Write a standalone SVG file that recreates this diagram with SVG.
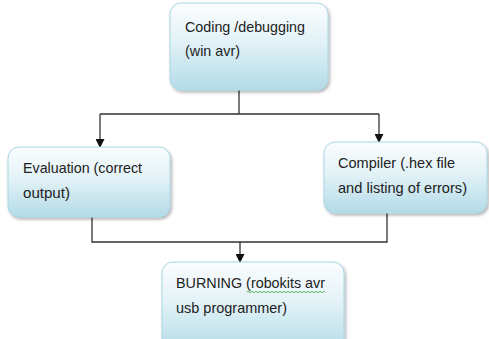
<svg xmlns="http://www.w3.org/2000/svg" width="489" height="339" viewBox="0 0 489 339">
<defs>
<linearGradient id="g" x1="0" y1="0" x2="0" y2="1">
<stop offset="0" stop-color="#fbfdfe"/>
<stop offset="0.45" stop-color="#e2f2f7"/>
<stop offset="1" stop-color="#b3dbe7"/>
</linearGradient>
<filter id="sh" x="-10%" y="-10%" width="125%" height="130%">
<feDropShadow dx="1.5" dy="2" stdDeviation="1.5" flood-color="#000" flood-opacity="0.3"/>
</filter>
<marker id="ah" markerWidth="9" markerHeight="9" refX="8" refY="4.5" orient="auto" markerUnits="userSpaceOnUse">
<path d="M0,0 L9,4.5 L0,9 Z" fill="#111"/>
</marker>
<style>
.box{fill:url(#g);stroke:#a8d6e3;stroke-width:1;filter:url(#sh)}
.t{font-family:"Liberation Sans",Arial,sans-serif;font-size:14.5px;fill:#222}
.c{fill:none;stroke:#333;stroke-width:1.3}
</style>
</defs>
<rect width="489" height="339" fill="#fff"/>
<g id="connectors">
<path class="c" d="M239,90 V114 M100,114 H379"/>
<path class="c" d="M100,114 V147" marker-end="url(#ah)"/>
<path class="c" d="M379,114 V142" marker-end="url(#ah)"/>
<path class="c" d="M92,217 V242 H387 V213"/>
<path class="c" d="M240,242 V262" marker-end="url(#ah)"/>
</g>
<g id="coding">
<rect class="box" x="170" y="3" width="158" height="87" rx="11"/>
<text class="t" x="185" y="32" textLength="120" lengthAdjust="spacingAndGlyphs">Coding /debugging</text>
<text class="t" x="185" y="56" textLength="55" lengthAdjust="spacingAndGlyphs">(win avr)</text>
</g>
<g id="evaluation">
<rect class="box" x="8" y="147" width="162" height="70" rx="11"/>
<text class="t" x="23" y="173" textLength="119" lengthAdjust="spacingAndGlyphs">Evaluation (correct</text>
<text class="t" x="23" y="198" textLength="47" lengthAdjust="spacingAndGlyphs">output)</text>
</g>
<g id="compiler">
<rect class="box" x="324" y="142" width="163" height="71" rx="11"/>
<text class="t" x="338" y="168" textLength="117" lengthAdjust="spacingAndGlyphs">Compiler (.hex file</text>
<text class="t" x="338" y="193" textLength="129" lengthAdjust="spacingAndGlyphs">and listing of errors)</text>
</g>
<g id="burning">
<rect class="box" x="162" y="262" width="182" height="90" rx="11"/>
<text class="t" x="176" y="288" textLength="149" lengthAdjust="spacingAndGlyphs">BURNING (robokits avr</text>
<path d="M247,292 q1,-1.5 2,0 t2,0 t2,0 t2,0 t2,0 t2,0 t2,0 t2,0 t2,0 t2,0 t2,0 t2,0 t2,0 t2,0 t2,0 t2,0 t2,0 t2,0 t2,0 t2,0 t2,0 t2,0 t2,0 t2,0 t2,0 t2,0 t2,0 t2,0 t2,0 t2,0 t2,0 t2,0 t2,0 t2,0 t2,0 t2,0 t2,0 t2,0 t2,0" fill="none" stroke="#3ca83c" stroke-width="0.8"/>
<text class="t" x="176" y="313" textLength="111" lengthAdjust="spacingAndGlyphs">usb programmer)</text>
</g>
</svg>
